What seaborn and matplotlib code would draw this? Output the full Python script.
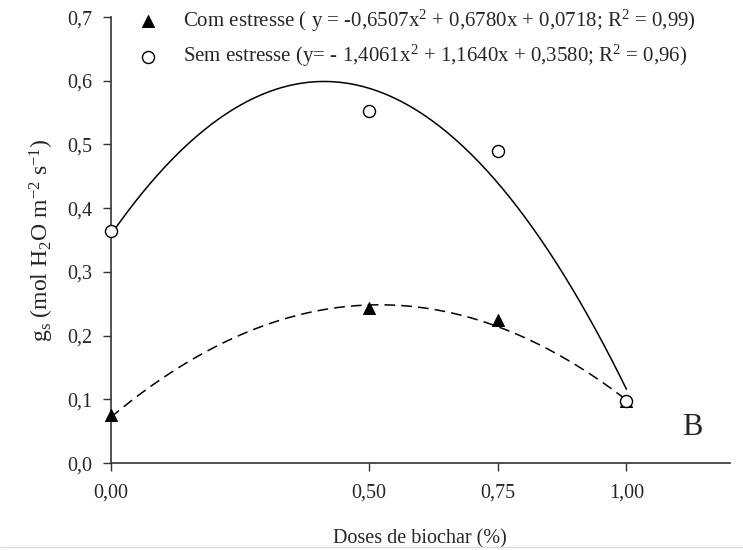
import numpy as np
import pandas as pd
import seaborn as sns
import matplotlib.pyplot as plt
from matplotlib.lines import Line2D

# biochar doses and measured g_s values
doses = [0.0, 0.5, 0.75, 1.0]
com_estresse = [0.075, 0.243, 0.225, 0.098]
sem_estresse = [0.365, 0.553, 0.490, 0.098]

# quadratic fits as printed in the legend (a, b, c)
coef_com = [-0.6507, 0.6780, 0.0718]
coef_sem = [-1.4061, 1.1640, 0.3580]

xticks = [0.0, 0.5, 0.75, 1.0]
xtick_labels = ['0,00', '0,50', '0,75', '1,00']
yticks = [0.0, 0.1, 0.2, 0.3, 0.4, 0.5, 0.6, 0.7]
ytick_labels = ['0,0', '0,1', '0,2', '0,3', '0,4', '0,5', '0,6', '0,7']

lab_com = r'Com estresse ( y = -0,6507x$^\mathregular{2}$ + 0,6780x + 0,0718; R$^\mathregular{2}$ = 0,99)'
lab_sem = r'Sem estresse (y= - 1,4061x$^\mathregular{2}$ + 1,1640x + 0,3580; R$^\mathregular{2}$ = 0,96)'

sns.set_style('ticks')
plt.rcParams['font.family'] = ['Liberation Serif', 'DejaVu Serif']
plt.rcParams['mathtext.fontset'] = 'custom'
plt.rcParams['mathtext.rm'] = 'Liberation Serif'
plt.rcParams['mathtext.it'] = 'Liberation Serif:italic'

pts = pd.DataFrame({'dose': doses, 'com': com_estresse, 'sem': sem_estresse})
xs = np.linspace(0, 1, 200)
curves = pd.DataFrame({'dose': xs,
                       'com': np.polyval(coef_com, xs),
                       'sem': np.polyval(coef_sem, xs)})

fig = plt.figure(figsize=(7.43, 5.5), dpi=100)
ax = fig.add_axes([0.149, 0.158, 0.833, 0.811])

sns.lineplot(data=curves, x='dose', y='sem', color='black', lw=1.1, ax=ax)
sns.lineplot(data=curves, x='dose', y='com', color='black', lw=1.1, ax=ax)
ax.lines[-1].set_dashes([7, 4])
sns.scatterplot(data=pts, x='dose', y='com', marker='^', color='black',
                edgecolor='black', s=75, zorder=3, clip_on=False, label=lab_com, ax=ax)
sns.scatterplot(data=pts, x='dose', y='sem', marker='o', facecolor='white',
                edgecolor='black', linewidth=1, s=75, zorder=4, clip_on=False,
                label=lab_sem, ax=ax)

ax.set_xlim(0, 1.2)
ax.set_ylim(0, 0.7)
ax.set_xticks(xticks, xtick_labels)
ax.set_yticks(yticks, ytick_labels)
ax.tick_params(labelsize=14.5, length=6, width=1, color='#333333')
ax.tick_params(axis='x', pad=9)
ax.tick_params(axis='y', pad=7)
for s in ['left', 'bottom']:
    ax.spines[s].set_color('#333333')
    ax.spines[s].set_linewidth(1.2)
sns.despine(ax=ax)

ax.set_xlabel('Doses de biochar (%)', fontsize=14.5, labelpad=19)
ax.set_ylabel(r'g$_\mathregular{s}$ (mol H$_\mathregular{2}$O m$^\mathregular{-2}$ s$^\mathregular{-1}$)',
              fontsize=17, labelpad=8)

ax.legend(loc='upper left', bbox_to_anchor=(0.013, 1.04), borderaxespad=0,
          frameon=False, fontsize=15, handletextpad=0.7, labelspacing=0.45)
ax.text(1.107, 0.044, 'B', fontsize=22)

fig.add_artist(Line2D([0, 1], [0.006, 0.006], color='#dddddd', lw=1))

fig.savefig('out.png', dpi=100)
